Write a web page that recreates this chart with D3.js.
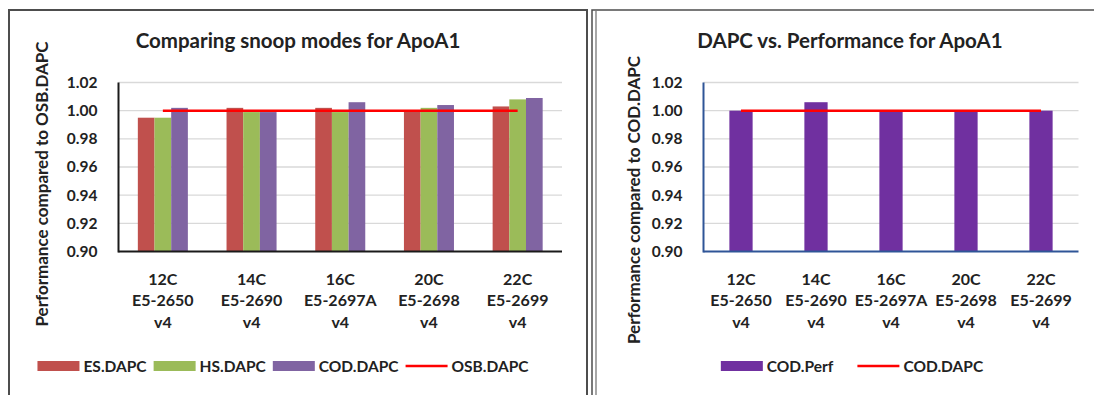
<!DOCTYPE html>
<html>
<head>
<meta charset="utf-8">
<script src="https://cdn.jsdelivr.net/npm/d3@7"></script>
<style>
  body { margin: 0; background: #fff; }
  svg { display: block; font-family: Lato, "Open Sans", sans-serif; }
  .tick line { display: none; }
</style>
</head>
<body>
<svg id="chart" width="1094" height="395"></svg>
<script>
// chart values
var categories = [["12C", "E5-2650", "v4"], ["14C", "E5-2690", "v4"], ["16C", "E5-2697A", "v4"],
                  ["20C", "E5-2698", "v4"], ["22C", "E5-2699", "v4"]];
var catKeys = categories.map(function (c) { return c.join(" "); });
var yTicks = [0.90, 0.92, 0.94, 0.96, 0.98, 1.00, 1.02];

var esDapc  = [0.995, 1.002, 1.002, 1.000, 1.003];
var hsDapc  = [0.995, 0.999, 0.999, 1.002, 1.008];
var codDapc = [1.002, 0.999, 1.006, 1.004, 1.009];
var osbDapc = [1.000, 1.000, 1.000, 1.000, 1.000];

var codPerf    = [1.000, 1.006, 1.000, 1.000, 1.000];
var codDapcRef = [1.000, 1.000, 1.000, 1.000, 1.000];

var svg = d3.select('#chart');

// panel frames
svg.append('rect').attr('x', 9).attr('y', 10).attr('width', 578).attr('height', 400)
  .attr('fill', 'none').attr('stroke', '#4d4d4d').attr('stroke-width', 2);
svg.append('rect').attr('x', 592).attr('y', 10).attr('width', 520).attr('height', 400)
  .attr('fill', 'none').attr('stroke', '#4d4d4d').attr('stroke-width', 1.5);
svg.append('line').attr('x1', 596).attr('x2', 596).attr('y1', 11).attr('y2', 395)
  .attr('stroke', '#6d6d6d').attr('stroke-width', 1.2);

function drawPanel(opt) {
  var g = svg.append('g');

  var x = d3.scaleBand().domain(catKeys).range([opt.left, opt.right])
    .paddingInner(opt.pad).paddingOuter(opt.pad / 2);
  var y = d3.scaleLinear().domain([0.90, 1.02]).range([251.5, 82.5]);

  // gridlines
  g.selectAll('.grid').data(yTicks.slice(1)).enter().append('line')
    .attr('x1', opt.left).attr('x2', opt.right)
    .attr('y1', function (d) { return y(d); }).attr('y2', function (d) { return y(d); })
    .attr('stroke', '#d9d9d9').attr('stroke-width', 1.3);

  // bars
  var sub = d3.scaleBand().domain(d3.range(opt.series.length)).range([0, x.bandwidth()]);
  opt.series.forEach(function (s, si) {
    g.selectAll('.bar' + si).data(s.values).enter().append('rect')
      .attr('x', function (d, i) { return x(catKeys[i]) + sub(si); })
      .attr('width', sub.bandwidth())
      .attr('y', function (d) { return y(d); })
      .attr('height', function (d) { return y(0.90) - y(d); })
      .attr('fill', s.color);
  });

  // reference line
  var line = d3.line()
    .x(function (d, i) { return x(catKeys[i]) + x.bandwidth() / 2; })
    .y(function (d) { return y(d); });
  g.append('path').datum(opt.line.values).attr('d', line)
    .attr('fill', 'none').attr('stroke', '#ff0000').attr('stroke-width', 2.5);

  // axes
  var yAxis = g.append('g').attr('transform', 'translate(' + (opt.left - 18) + ',0)')
    .call(d3.axisLeft(y).tickValues(yTicks).tickSize(0).tickFormat(d3.format('.2f')));
  yAxis.select('.domain').remove();
  yAxis.selectAll('text').attr('font-size', 15.5).attr('font-weight', 'bold')
    .attr('fill', '#222').attr('font-family', 'Lato, sans-serif').attr('dx', 0);

  g.append('line').attr('x1', opt.left).attr('x2', opt.left).attr('y1', y(1.02)).attr('y2', y(0.90) + 1)
    .attr('stroke', opt.axisColor).attr('stroke-width', 2);
  g.append('line').attr('x1', opt.left).attr('x2', opt.right).attr('y1', y(0.90)).attr('y2', y(0.90))
    .attr('stroke', opt.axisColor).attr('stroke-width', 2);

  var xAxis = g.append('g').attr('transform', 'translate(0,' + y(0.90) + ')')
    .call(d3.axisBottom(x).tickSize(0).tickFormat(''));
  xAxis.select('.domain').remove();
  xAxis.selectAll('.tick').each(function (d, i) {
    var t = d3.select(this).append('text').attr('text-anchor', 'middle')
      .attr('font-size', 16).attr('font-weight', 'bold').attr('fill', '#222')
      .attr('font-family', 'Lato, sans-serif');
    categories[i].forEach(function (ln, li) {
      t.append('tspan').attr('x', 0).attr('y', 33 + li * 21.5).text(ln);
    });
  });

  // titles
  g.append('text').attr('x', opt.titleX).attr('y', 48).attr('text-anchor', 'middle')
    .attr('font-size', 20.5).attr('font-weight', 'bold').attr('fill', '#222').text(opt.title);
  g.append('text').attr('transform', 'translate(' + opt.yTitleX + ',' + opt.yTitleY + ') rotate(-90)')
    .attr('text-anchor', 'middle').attr('font-size', 17).attr('font-weight', 'bold')
    .attr('fill', '#222').text(opt.yTitle);

  // legend
  var items = opt.series.map(function (s) { return { name: s.name, color: s.color, type: 'bar' }; })
    .concat([{ name: opt.line.name, color: '#ff0000', type: 'line' }]);
  var lg = g.append('g');
  var cx = 0;
  items.forEach(function (it) {
    if (it.type === 'bar') {
      lg.append('rect').attr('x', cx).attr('y', -5).attr('width', 42).attr('height', 10).attr('fill', it.color);
    } else {
      lg.append('line').attr('x1', cx).attr('x2', cx + 42).attr('y1', 0).attr('y2', 0)
        .attr('stroke', it.color).attr('stroke-width', 2.5);
    }
    var t = lg.append('text').attr('x', cx + 46).attr('y', 5.5).attr('font-size', 15.5)
      .attr('font-weight', 'bold').attr('fill', '#222').text(it.name);
    cx += 46 + t.node().getComputedTextLength() + opt.legendGap;
  });
  var w = cx - opt.legendGap;
  lg.attr('transform', 'translate(' + (opt.legendCenter - w / 2) + ',366)');
}

drawPanel({
  left: 118.5, right: 562, pad: 0.436,
  axisColor: '#1a1a1a',
  title: 'Comparing snoop modes for ApoA1', titleX: 298,
  yTitle: 'Performance compared to OSB.DAPC', yTitleX: 48, yTitleY: 184,
  series: [
    { name: 'ES.DAPC', color: '#c0504d', values: esDapc },
    { name: 'HS.DAPC', color: '#9bbb59', values: hsDapc },
    { name: 'COD.DAPC', color: '#8064a2', values: codDapc }
  ],
  line: { name: 'OSB.DAPC', values: osbDapc },
  legendCenter: 283, legendGap: 7
});

drawPanel({
  left: 703.5, right: 1078.5, pad: 0.69,
  axisColor: '#2f5597',
  title: 'DAPC vs. Performance for ApoA1', titleX: 850,
  yTitle: 'Performance compared to COD.DAPC', yTitleX: 640, yTitleY: 200,
  series: [
    { name: 'COD.Perf', color: '#7030a0', values: codPerf }
  ],
  line: { name: 'COD.DAPC', values: codDapcRef },
  legendCenter: 852, legendGap: 24
});
</script>
</body>
</html>
